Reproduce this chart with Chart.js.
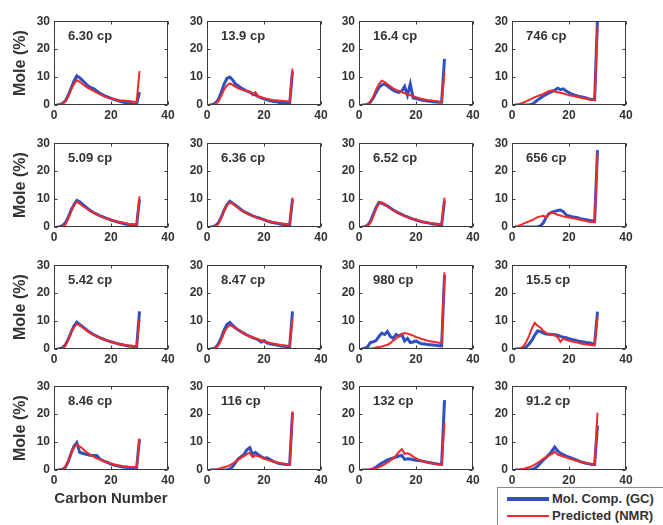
<!DOCTYPE html>
<html>
<head>
<meta charset="utf-8">
<script src="https://cdn.jsdelivr.net/npm/chart.js@4/dist/chart.umd.min.js"></script>
<style>
  body { margin: 0; background: #fff; width: 663px; height: 525px; position: relative; overflow: hidden;
         font-family: 'Liberation Sans', Arial, sans-serif; }
  canvas { position: absolute; }
  #legend { position: absolute; left: 497px; top: 487px; width: 170px; height: 45px;
            border: 1px solid #8a8a8a; background: #fff; }
  #legend .row { position: absolute; left: 9px; height: 16px; font-weight: bold; font-size: 13px; color: #333; }
  #legend .swatch { position: absolute; left: 0; width: 42px; }
  #legend span { position: absolute; left: 45px; top: 0; white-space: nowrap; line-height: 16px; }
</style>
</head>
<body>
<div id="legend">
  <div class="row" style="top:3px"><div class="swatch" style="top:6px;height:4px;background:#3050bd"></div><span>Mol. Comp. (GC)</span></div>
  <div class="row" style="top:20px"><div class="swatch" style="top:7px;height:2px;background:#f02a2a"></div><span>Predicted (NMR)</span></div>
</div>
<script>
// Carbon numbers (x) shared by every panel
const carbonNumbers = [1,2,3,4,5,6,7,8,9,10,11,12,13,14,15,16,17,18,19,20,21,22,23,24,25,26,27,28,29,30];
const xTickValues = [0, 20, 40];
const yTickValues = [0, 10, 20, 30];

// Panel labels (viscosity)
const panelLabels = ['6.30 cp','13.9 cp','16.4 cp','746 cp',
                     '5.09 cp','6.36 cp','6.52 cp','656 cp',
                     '5.42 cp','8.47 cp','980 cp','15.5 cp',
                     '8.46 cp','116 cp','132 cp','91.2 cp'];

// Mol. Comp. (GC) and Predicted (NMR), mole %
const gc1  = [0,0.2,0.6,1.5,3.5,6,8.5,10.4,9.8,8.8,7.8,6.8,6.2,5.8,5,4.3,3.7,3.2,2.8,2.4,2,1.7,1.4,1.1,0.9,0.7,0.5,0.4,0.3,4.6];
const nmr1 = [0,0.1,0.5,1.3,3,5.5,7.5,8.9,8.3,7.5,6.7,6,5.5,5,4.4,3.9,3.4,3,2.6,2.3,2.1,1.9,1.7,1.6,1.5,1.4,1.3,1.2,1.1,12.1];
const gc2  = [0,0.2,0.7,2,4.5,7.5,9.5,10,9,7.5,6.8,6.1,5.5,5,4.6,4.1,3.6,3,2.6,2.2,1.9,1.6,1.3,1.2,1,0.8,0.6,0.5,0.4,12];
const nmr2 = [0,0.1,0.4,1.3,3.3,5.5,7,7.7,7.2,6.5,6,5.5,5.3,5,4.8,3.5,4.6,3,2.8,2.5,2.2,2,1.8,1.7,1.6,1.5,1.4,1.3,1.2,13];
const gc3  = [0,0,0.3,1,2.5,4.5,6.3,7.2,7.5,6.8,6,5.3,4.8,4.5,5,6.6,3.5,7.5,2.5,2.3,2,1.8,1.6,1.4,1.3,1.2,1.1,1,1,16.5];
const nmr3 = [0,0,0.3,1.2,3,5.5,7.5,8.7,8.2,7.4,6.7,6,5.4,5,4.6,4.2,3.8,3.5,3.2,2.8,2.5,2.2,2,1.8,1.7,1.5,1.4,1.2,1.2,11.5];
const gc4  = [0,0,0,0,0,0,0.3,1,1.8,2.5,3.2,3.8,4.3,4.8,5.3,6,5.5,5.8,5,4.4,3.9,3.5,3.2,3,2.8,2.5,2.2,2,2,31];
const nmr4 = [0,0.2,0.5,0.9,1.3,1.8,2.3,2.8,3.2,3.6,4,4.5,5,5.2,4.8,4.6,4.4,4.1,3.8,3.5,3.3,3.1,2.9,2.6,2.4,2.2,2,1.8,1.7,28.5];
const gc5  = [0,0.1,0.5,1.5,3.5,6,8,9.5,9,8.2,7.3,6.5,5.7,5.1,4.6,4.1,3.7,3.3,2.9,2.5,2.2,1.9,1.6,1.3,1.1,0.9,0.8,0.7,0.6,9.9];
const nmr5 = [0,0,0.2,0.8,3,5.5,7.8,9.1,8.3,7.6,6.9,6.2,5.5,5,4.5,4,3.6,3.2,2.9,2.6,2.3,2,1.8,1.6,1.4,1.2,1.1,1,0.9,11];
const gc6  = [0,0.1,0.5,1.5,3.5,6,8,9.2,8.5,7.8,7,6.2,5.5,5,4.5,4,3.6,3.3,3,2.6,2.2,1.9,1.6,1.4,1.2,1,0.9,0.8,0.7,10];
const nmr6 = [0,0,0.3,1.2,3.2,5.8,7.8,8.8,8.3,7.5,6.8,6,5.4,4.9,4.4,4,3.6,3.2,2.9,2.6,2.3,2,1.8,1.6,1.4,1.3,1.2,1.1,1,10.5];
const gc7  = [0,0.1,0.6,2,4.5,7,8.8,8.5,8,7.5,6.8,6.1,5.5,5,4.5,4,3.6,3.2,2.8,2.5,2.2,1.9,1.7,1.5,1.3,1.1,1,0.9,0.8,9.5];
const nmr7 = [0,0.1,0.5,1.5,3.8,6.5,8.5,8.8,8.2,7.4,6.7,6,5.4,4.9,4.4,4,3.6,3.2,2.9,2.6,2.3,2,1.8,1.6,1.4,1.3,1.2,1.1,1,10.5];
const gc8  = [0,0,0,0,0,0,0,0,0.1,0.4,1.5,3.5,4.8,5.3,5.6,5.9,6.1,5.5,4.3,4,3.7,3.5,3.3,3,2.8,2.6,2.4,2.2,2.1,27.5];
const nmr8 = [0,0.3,0.7,1.2,1.6,2,2.4,3,3.5,3.8,4,3.5,4.8,5.2,4.8,4.4,4.1,3.8,3.6,3.4,3.2,3,2.8,2.6,2.3,2.1,1.9,1.8,1.7,26.5];
const gc9  = [0,0.1,0.5,1.5,3.5,6,8.2,9.6,8.8,8,7.2,6.4,5.7,5.1,4.6,4.1,3.7,3.3,2.9,2.6,2.3,2,1.7,1.5,1.3,1.1,1,0.9,0.8,13.5];
const nmr9 = [0,0,0.3,1.2,3.2,5.8,7.8,9,8.5,7.7,6.9,6.2,5.5,5,4.5,4,3.6,3.2,2.9,2.6,2.3,2,1.8,1.6,1.4,1.3,1.2,1.1,1,10.5];
const gc10  = [0,0.1,0.5,1.8,4,6.8,8.8,9.5,8.5,7.5,6.8,6.2,5.6,5,4.5,4.1,3.7,3.3,2.5,3,2.2,1.9,1.7,1.5,1.3,1.1,1,0.9,0.8,13.5];
const nmr10 = [0,0.1,0.4,1.3,3.2,5.8,7.6,8.5,8.1,7.5,6.8,6.1,5.5,5,4.6,4.2,3.8,3.4,3.1,2.8,2.5,2.2,2,1.8,1.6,1.4,1.3,1.2,1.1,11];
const gc11  = [0,0.3,0.8,2.3,2.6,3,4.5,5.7,5.2,6.3,4.5,3.8,5.2,4.6,5.2,2.9,3.8,2.3,2.5,2.9,2.3,1.9,1.8,1.6,1.5,1.4,1.3,1.2,1.1,26.5];
const nmr11 = [0,0,0.1,0.2,0.3,0.5,0.7,0.9,1.2,1.5,2.1,3,3.8,4.6,5.2,5.7,5.5,5.2,4.8,4.3,4,3.6,3.3,3,2.8,2.6,2.4,2.2,2,27.5];
const gc12  = [0,0,0.1,0.3,0.8,1.8,3.2,5,6.5,6.2,5.7,5.4,5.3,5.2,5.1,4.9,4.5,4.2,4,3.7,3.4,3.2,2.9,2.7,2.5,2.3,2.2,2,1.9,13.4];
const nmr12 = [0,0.1,0.3,1,2.5,4.8,7.5,9.4,8.3,7.6,6.5,5.7,5.3,5,4.9,4.2,2.6,3.8,3.3,2.9,2.7,2.5,2.3,2,1.8,1.6,1.5,1.3,1.3,11.5];
const gc13  = [0,0,0.3,1,3,6,8.5,9.8,6.3,6,5.7,5.4,5.2,5.2,5.2,4,3.4,3,2.6,2.1,1.8,1.5,1.3,1.1,1,0.9,0.9,0.8,0.8,11];
const nmr13 = [0,0,0.3,1.2,3.2,5.8,8,9.1,8.5,7.7,6.7,6,5.3,4.7,4.2,3.8,3.4,3,2.7,2.3,2,1.8,1.6,1.4,1.3,1.2,1.1,1,1,11.2];
const gc14  = [0,0,0,0,0,0,0.1,0.4,1.2,2.7,4,4.8,5.6,7.2,8,5.5,6.3,5.5,4.8,4.2,4.4,3.8,3.2,2.8,2.4,2.2,2.1,2,2,20.5];
const nmr14 = [0,0.1,0.2,0.4,0.7,1,1.3,1.7,2.3,3,3.7,4.4,5,5.7,6.2,4.6,5.2,4.9,4.5,4,3.7,3.4,3.1,2.9,2.6,2.4,2.2,2,1.9,21];
const gc15  = [0,0,0,0.1,0.5,1,1.8,2.5,3,3.6,4,4.3,4.6,5,5.2,3.8,4,3.9,3.7,3.5,3.4,3.2,3,2.8,2.6,2.4,2.2,2.1,2,25];
const nmr15 = [0,0,0.1,0.2,0.4,0.6,1,1.5,2,2.7,3.3,4.2,5.2,6.5,7.5,5.8,6,5.6,4.8,4.2,3.7,3.3,3,2.8,2.5,2.3,2.1,2,1.9,17];
const gc16  = [0,0,0,0,0,0,0.2,0.6,1.4,2.5,3.6,4.5,5.5,6.8,8.2,6.8,6,5.5,5,4.6,4.2,3.8,3.4,3,2.7,2.4,2.2,2,2,16];
const nmr16 = [0,0.1,0.2,0.4,0.7,1,1.4,1.9,2.6,3.3,4,4.6,5.2,5.8,6.5,5.5,5.2,4.8,4.5,4.1,3.8,3.5,3.2,2.9,2.7,2.5,2.3,2.1,2,20.5];

const gcSets  = [gc1, gc2, gc3, gc4, gc5, gc6, gc7, gc8, gc9, gc10, gc11, gc12, gc13, gc14, gc15, gc16];
const nmrSets = [nmr1, nmr2, nmr3, nmr4, nmr5, nmr6, nmr7, nmr8, nmr9, nmr10, nmr11, nmr12, nmr13, nmr14, nmr15, nmr16];

// layout of the plot boxes on the page
const colLeft = [54, 207, 359, 512];
const rowTop = [18, 140, 262, 383];
const plotW = 114, plotH = 87;

const TEXT = '#333';
const FONT = "'Liberation Sans', Arial, sans-serif";

const frame = {
  id: 'frame',
  afterDatasetsDraw(chart, args, opts) {
    const { ctx, chartArea: a, scales: { x, y } } = chart;
    ctx.save();
    ctx.strokeStyle = '#3a3a3a';
    ctx.lineWidth = 1;
    const l = Math.round(a.left) + 0.5, t = Math.round(a.top) + 0.5;
    const r = Math.round(a.right) - 0.5, b = Math.round(a.bottom) - 0.5;
    ctx.strokeRect(l, t, r - l, b - t);
    ctx.beginPath();
    xTickValues.forEach(v => {
      const px = Math.round(x.getPixelForValue(v)) + 0.5;
      ctx.moveTo(px, b); ctx.lineTo(px, b - 3);
      ctx.moveTo(px, t); ctx.lineTo(px, t + 3);
    });
    yTickValues.forEach(v => {
      const py = Math.round(y.getPixelForValue(v)) + 0.5;
      ctx.moveTo(l, py); ctx.lineTo(l + 3, py);
      ctx.moveTo(r, py); ctx.lineTo(r - 3, py);
    });
    ctx.stroke();
    ctx.fillStyle = TEXT;
    ctx.font = 'bold 13px ' + FONT;
    ctx.textBaseline = 'middle';
    ctx.fillText(opts.label, a.left + 14, a.top + 15);
    ctx.restore();
  }
};

panelLabels.forEach((label, i) => {
  const row = Math.floor(i / 4), col = i % 4;
  const yW = col === 0 ? colLeft[0] : 40;
  const xH = (row === 3 && col === 0) ? 42 : 22;
  const padTop = 8, padRight = 14;
  const cv = document.createElement('canvas');
  cv.width = yW + plotW + padRight;
  cv.height = padTop + plotH + xH;
  cv.style.left = (colLeft[col] - yW) + 'px';
  cv.style.top = (rowTop[row] - padTop) + 'px';
  document.body.appendChild(cv);

  new Chart(cv, {
    type: 'line',
    data: {
      labels: carbonNumbers,
      datasets: [
        { label: 'Predicted (NMR)', data: carbonNumbers.map((c, k) => ({ x: c, y: nmrSets[i][k] })),
          borderColor: '#f02a2a', borderWidth: 2, pointRadius: 0, order: 0 },
        { label: 'Mol. Comp. (GC)', data: carbonNumbers.map((c, k) => ({ x: c, y: gcSets[i][k] })),
          borderColor: '#3050bd', borderWidth: 3, pointRadius: 0, order: 1 }
      ]
    },
    options: {
      responsive: false,
      animation: false,
      devicePixelRatio: 1,
      layout: { padding: { top: padTop, right: padRight, left: 0, bottom: 0 } },
      plugins: { legend: { display: false }, tooltip: { enabled: false }, frame: { label } },
      scales: {
        x: {
          type: 'linear', min: 0, max: 40,
          afterFit: s => { s.height = xH; },
          grid: { display: false, drawTicks: false },
          border: { display: false },
          ticks: { stepSize: 20, padding: 3, color: TEXT, font: { family: FONT, size: 12, weight: 'bold' } },
          title: { display: row === 3 && col === 0, text: 'Carbon Number', color: TEXT,
                   padding: { top: 4, bottom: 4 }, font: { family: FONT, size: 15, weight: 'bold' } }
        },
        y: {
          min: 0, max: 30,
          afterFit: s => { s.width = yW; },
          grid: { display: false, drawTicks: false },
          border: { display: false },
          ticks: { stepSize: 10, padding: 4, color: TEXT, font: { family: FONT, size: 12, weight: 'bold' } },
          title: { display: col === 0, text: 'Mole (%)', color: TEXT,
                   padding: { top: 11, bottom: 0 }, font: { family: FONT, size: 16, weight: 'bold' } }
        }
      }
    },
    plugins: [frame]
  });
});
</script>
</body>
</html>
